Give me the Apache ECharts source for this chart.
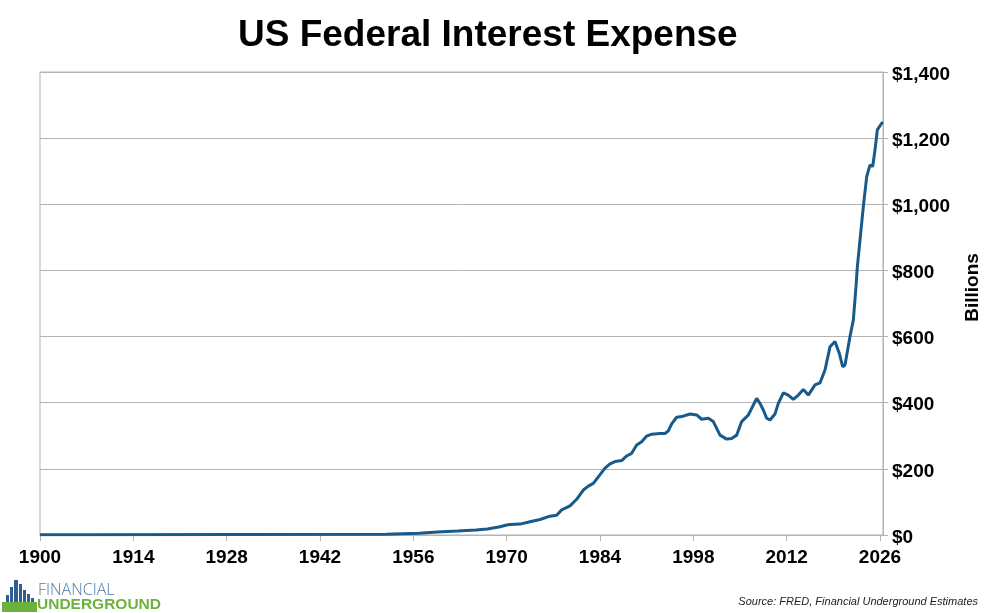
<!DOCTYPE html>
<html lang="en">
<head>
    <meta charset="UTF-8">
    <title>US Federal Interest Expense</title>
    <style>
        html, body { margin: 0; padding: 0; background: #fff; }
        #chart { width: 996px; height: 613px; }
    </style>
</head>
<body>
<div id="chart"></div>
<script src="https://cdn.jsdelivr.net/npm/echarts@6/dist/echarts.min.js"></script>
<script>
    // years (fractional = quarter within year) and interest expense, $ billions
    var years = [
        1900, 1906.4, 1906.6, 1951.9, 1952.1, 1956.9, 1957.1, 1959.6, 1959.8, 1962.6,
        1962.8, 1965.4, 1965.6, 1967.1, 1967.3, 1969, 1970, 1970.5, 1972, 1973.5,
        1975, 1976.5, 1977.5, 1978.25, 1979.5, 1980.5, 1981.5, 1982.25, 1983, 1983.75,
        1984.75, 1985.5, 1986.25, 1987.25, 1988, 1988.75, 1989.5, 1990.25, 1991, 1991.75,
        1993, 1993.75, 1994.25, 1994.75, 1995.5, 1996.25, 1997.5, 1998.5, 1999.25, 2000.25,
        2001, 2002, 2003, 2003.75, 2004.5, 2005.25, 2006.25, 2006.75, 2007.5, 2008,
        2008.5, 2009, 2009.5, 2010.25, 2010.75, 2011.5, 2012.25, 2013, 2013.75, 2014.5,
        2015.25, 2016.25, 2017, 2017.75, 2018.5, 2019.25, 2019.9, 2020.4, 2020.75, 2021.5,
        2022, 2022.4, 2022.6, 2023, 2023.5, 2024, 2024.5, 2024.9, 2025.25, 2025.6,
        2026.25, 2026.45
    ];
    var interest = [
        0.5, 0.5, 2.5, 2.5, 5, 5, 9, 9, 12, 12,
        15, 15, 18, 18, 22, 25, 30, 32, 33, 40,
        47, 57, 60, 76, 88, 108, 136, 148, 156, 176,
        202, 215, 222, 225, 239, 247, 272, 282, 299, 305,
        307, 307, 315, 336, 356, 358, 366, 363, 350, 353,
        343, 302, 290, 292, 302, 343, 363, 383, 413, 398,
        378, 353, 348, 366, 398, 430, 423, 410, 423, 440,
        423, 454, 460, 499, 569, 585, 549, 509, 514, 600,
        650, 751, 811, 892, 993, 1083, 1119, 1114, 1164, 1225,
        1245, 1248
    ];
    var xMin = 1900, xMax = 2026.45, xStep = 14;
    var yMin = 0, yMax = 1400, yStep = 200;

    var seriesData = [];
    for (var i = 0; i < years.length; i++) {
        seriesData.push([years[i], interest[i]]);
    }

    var font = 'Liberation Sans';
    var grey = '#b3b3b3';
    var chart = echarts.init(document.getElementById('chart'));

    chart.setOption({
        animation: false,
        title: {
            text: 'US Federal Interest Expense',
            left: 233,
            top: 12,
            textStyle: { fontFamily: font, fontSize: 37, fontWeight: 'bold', color: '#000' }
        },
        grid: {
            left: 40, right: 113, top: 72, bottom: 78,
            show: true, borderColor: grey, borderWidth: 1
        },
        xAxis: {
            type: 'value',
            min: xMin, max: xMax, interval: xStep,
            axisLine: { show: true, lineStyle: { color: grey } },
            axisTick: { show: true, length: 6, lineStyle: { color: grey } },
            splitLine: { show: false },
            axisLabel: {
                margin: 13,
                fontFamily: font, fontSize: 19, fontWeight: 'bold', color: '#000',
                showMaxLabel: false,
                formatter: function (v) {
                    return (v - xMin) % xStep === 0 ? String(v) : '';
                }
            }
        },
        yAxis: {
            type: 'value',
            position: 'right',
            min: yMin, max: yMax, interval: yStep,
            name: 'Billions',
            nameLocation: 'middle',
            nameRotate: 90,
            nameGap: 80,
            nameTextStyle: { fontFamily: font, fontSize: 19, fontWeight: 'bold', color: '#000', padding: [0, 0, 0, 32] },
            axisLine: { show: true, lineStyle: { color: grey } },
            axisTick: { show: true, length: 5, lineStyle: { color: grey } },
            splitLine: { show: true, lineStyle: { color: grey, width: 1 } },
            axisLabel: {
                margin: 9,
                fontFamily: font, fontSize: 19, fontWeight: 'bold', color: '#000',
                formatter: function (v) {
                    return '{v|$' + v.toLocaleString('en-US') + '}';
                },
                rich: {
                    v: { fontFamily: font, fontSize: 19, fontWeight: 'bold', color: '#000', padding: [5, 0, 0, 0] }
                }
            }
        },
        series: [{
            name: 'Interest Expense',
            type: 'line',
            data: seriesData,
            showSymbol: false,
            lineStyle: { color: '#185a8a', width: 3 },
            itemStyle: { color: '#185a8a' }
        }],
        graphic: [
            // logo building marks
            { type: 'rect', shape: { x: 6, y: 595, width: 3, height: 10 }, style: { fill: '#2f5f92' } },
            { type: 'rect', shape: { x: 10, y: 587, width: 3, height: 18 }, style: { fill: '#2f5f92' } },
            { type: 'rect', shape: { x: 14, y: 580, width: 4, height: 25 }, style: { fill: '#2f5f92' } },
            { type: 'rect', shape: { x: 19, y: 584, width: 3, height: 21 }, style: { fill: '#2f5f92' } },
            { type: 'rect', shape: { x: 23, y: 590, width: 3, height: 15 }, style: { fill: '#2f5f92' } },
            { type: 'rect', shape: { x: 27, y: 594, width: 3, height: 11 }, style: { fill: '#2f5f92' } },
            { type: 'rect', shape: { x: 31, y: 598, width: 3, height: 7 }, style: { fill: '#2f5f92' } },
            { type: 'rect', shape: { x: 2, y: 602, width: 35, height: 10 }, style: { fill: '#6cb33e' } },
            {
                type: 'text', left: 38, top: 582,
                style: { text: 'FINANCIAL', fontFamily: 'Open Sans', fontSize: 16, fontWeight: 300, fill: '#4d79a6' }
            },
            {
                type: 'text', left: 37, top: 597,
                style: { text: 'UNDERGROUND', fontFamily: font, fontSize: 15.5, fontWeight: 'bold', fill: '#6cb33e' }
            },
            {
                type: 'text', right: 18, top: 596,
                style: { text: 'Source: FRED, Financial Underground Estimates', fontFamily: font, fontSize: 11, fontStyle: 'italic', fill: '#222' }
            }
        ]
    });

    window.addEventListener('resize', function () {
        chart.resize();
    });
</script>
</body>
</html>
